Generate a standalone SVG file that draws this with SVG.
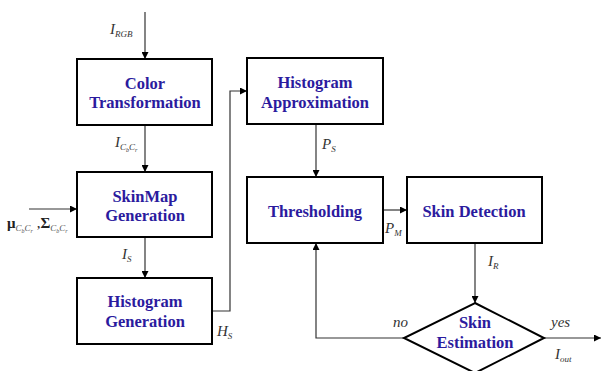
<svg xmlns="http://www.w3.org/2000/svg" width="602" height="371" viewBox="0 0 602 371">
  <style>
    .box { fill: #ffffff; stroke: #000000; stroke-width: 2; }
    .title { font-family: "Liberation Serif", "Times New Roman", serif; font-weight: bold; font-size: 16.5px; fill: #2b1b9e; text-anchor: middle; }
    .wire { fill: none; stroke: #333333; stroke-width: 1.2; }
    .lbl { font-family: "Liberation Serif", "Times New Roman", serif; font-style: italic; font-size: 15px; fill: #333333; }
    .sub { font-size: 9px; }
    .sub2 { font-size: 6px; }
  </style>
  <defs>
    <marker id="arrow" viewBox="0 0 10 10" refX="10" refY="5" markerWidth="7" markerHeight="7" markerUnits="userSpaceOnUse" orient="auto">
      <path d="M0,0 L10,5 L0,10 Z" fill="#000000"/>
    </marker>
  </defs>
  <rect width="602" height="371" fill="#ffffff"/>

  <g id="connectors">
    <path class="wire" d="M145,12 V59" marker-end="url(#arrow)"/>
    <path class="wire" d="M145,125 V172" marker-end="url(#arrow)"/>
    <path class="wire" d="M29,209 H77" marker-end="url(#arrow)"/>
    <path class="wire" d="M145,237 V278" marker-end="url(#arrow)"/>
    <path class="wire" d="M212,311 H230 V91 H247" marker-end="url(#arrow)"/>
    <path class="wire" d="M316,124 V177" marker-end="url(#arrow)"/>
    <path class="wire" d="M383,210 H407" marker-end="url(#arrow)"/>
    <path class="wire" d="M475,243 V303" marker-end="url(#arrow)"/>
    <path class="wire" d="M544,338 H601" marker-end="url(#arrow)"/>
    <path class="wire" d="M404,338 H316 V243" marker-end="url(#arrow)"/>
  </g>

  <g id="labels">
    <text class="lbl" x="110" y="34">I<tspan class="sub" dy="3">RGB</tspan></text>
    <text class="lbl" x="115" y="147">I<tspan class="sub" dy="3">C</tspan><tspan class="sub2" dy="2">b</tspan><tspan class="sub" dy="-2">C</tspan><tspan class="sub2" dy="2">r</tspan></text>
    <text font-family="'Liberation Serif', 'Times New Roman', serif" font-size="15" font-weight="bold" fill="#222222" x="7" y="228">μ<tspan font-weight="normal" font-style="italic" font-size="9" dy="3" fill="#555555">C</tspan><tspan font-weight="normal" font-style="italic" font-size="6" dy="2" fill="#555555">b</tspan><tspan font-weight="normal" font-style="italic" font-size="9" dy="-2" fill="#555555">C</tspan><tspan font-weight="normal" font-style="italic" font-size="6" dy="2" fill="#555555">r</tspan><tspan font-weight="normal" dy="-5"> ,</tspan>Σ<tspan font-weight="normal" font-style="italic" font-size="9" dy="3" fill="#555555">C</tspan><tspan font-weight="normal" font-style="italic" font-size="6" dy="2" fill="#555555">b</tspan><tspan font-weight="normal" font-style="italic" font-size="9" dy="-2" fill="#555555">C</tspan><tspan font-weight="normal" font-style="italic" font-size="6" dy="2" fill="#555555">r</tspan></text>
    <text class="lbl" x="122" y="259">I<tspan class="sub" dy="3">S</tspan></text>
    <text class="lbl" x="217" y="336">H<tspan class="sub" dy="3">S</tspan></text>
    <text class="lbl" x="322" y="149">P<tspan class="sub" dy="3">S</tspan></text>
    <text class="lbl" x="385" y="233">P<tspan class="sub" dy="3">M</tspan></text>
    <text class="lbl" x="488" y="266">I<tspan class="sub" dy="3">R</tspan></text>
    <text class="lbl" x="393" y="327">no</text>
    <text class="lbl" x="551" y="327">yes</text>
    <text class="lbl" x="555" y="359">I<tspan class="sub" dy="3">out</tspan></text>
  </g>

  <g id="color-transformation">
    <rect class="box" x="77" y="59" width="135" height="66"/>
    <text class="title" x="145" y="89">Color</text>
    <text class="title" x="145" y="108">Transformation</text>
  </g>

  <g id="skinmap-generation">
    <rect class="box" x="77" y="172" width="135" height="65"/>
    <text class="title" x="145" y="202">SkinMap</text>
    <text class="title" x="145" y="221">Generation</text>
  </g>

  <g id="histogram-generation">
    <rect class="box" x="77" y="278" width="135" height="66"/>
    <text class="title" x="145" y="307">Histogram</text>
    <text class="title" x="145" y="327">Generation</text>
  </g>

  <g id="histogram-approximation">
    <rect class="box" x="247" y="58" width="136" height="66"/>
    <text class="title" x="315" y="88">Histogram</text>
    <text class="title" x="315" y="108">Approximation</text>
  </g>

  <g id="thresholding">
    <rect class="box" x="247" y="177" width="136" height="66"/>
    <text class="title" x="315" y="217">Thresholding</text>
  </g>

  <g id="skin-detection">
    <rect class="box" x="407" y="177" width="135" height="66"/>
    <text class="title" x="474" y="217">Skin Detection</text>
  </g>

  <g id="skin-estimation">
    <polygon class="box" points="475,303 544,338 475,373 404,338"/>
    <text class="title" x="475" y="328">Skin</text>
    <text class="title" x="475" y="348">Estimation</text>
  </g>
</svg>
